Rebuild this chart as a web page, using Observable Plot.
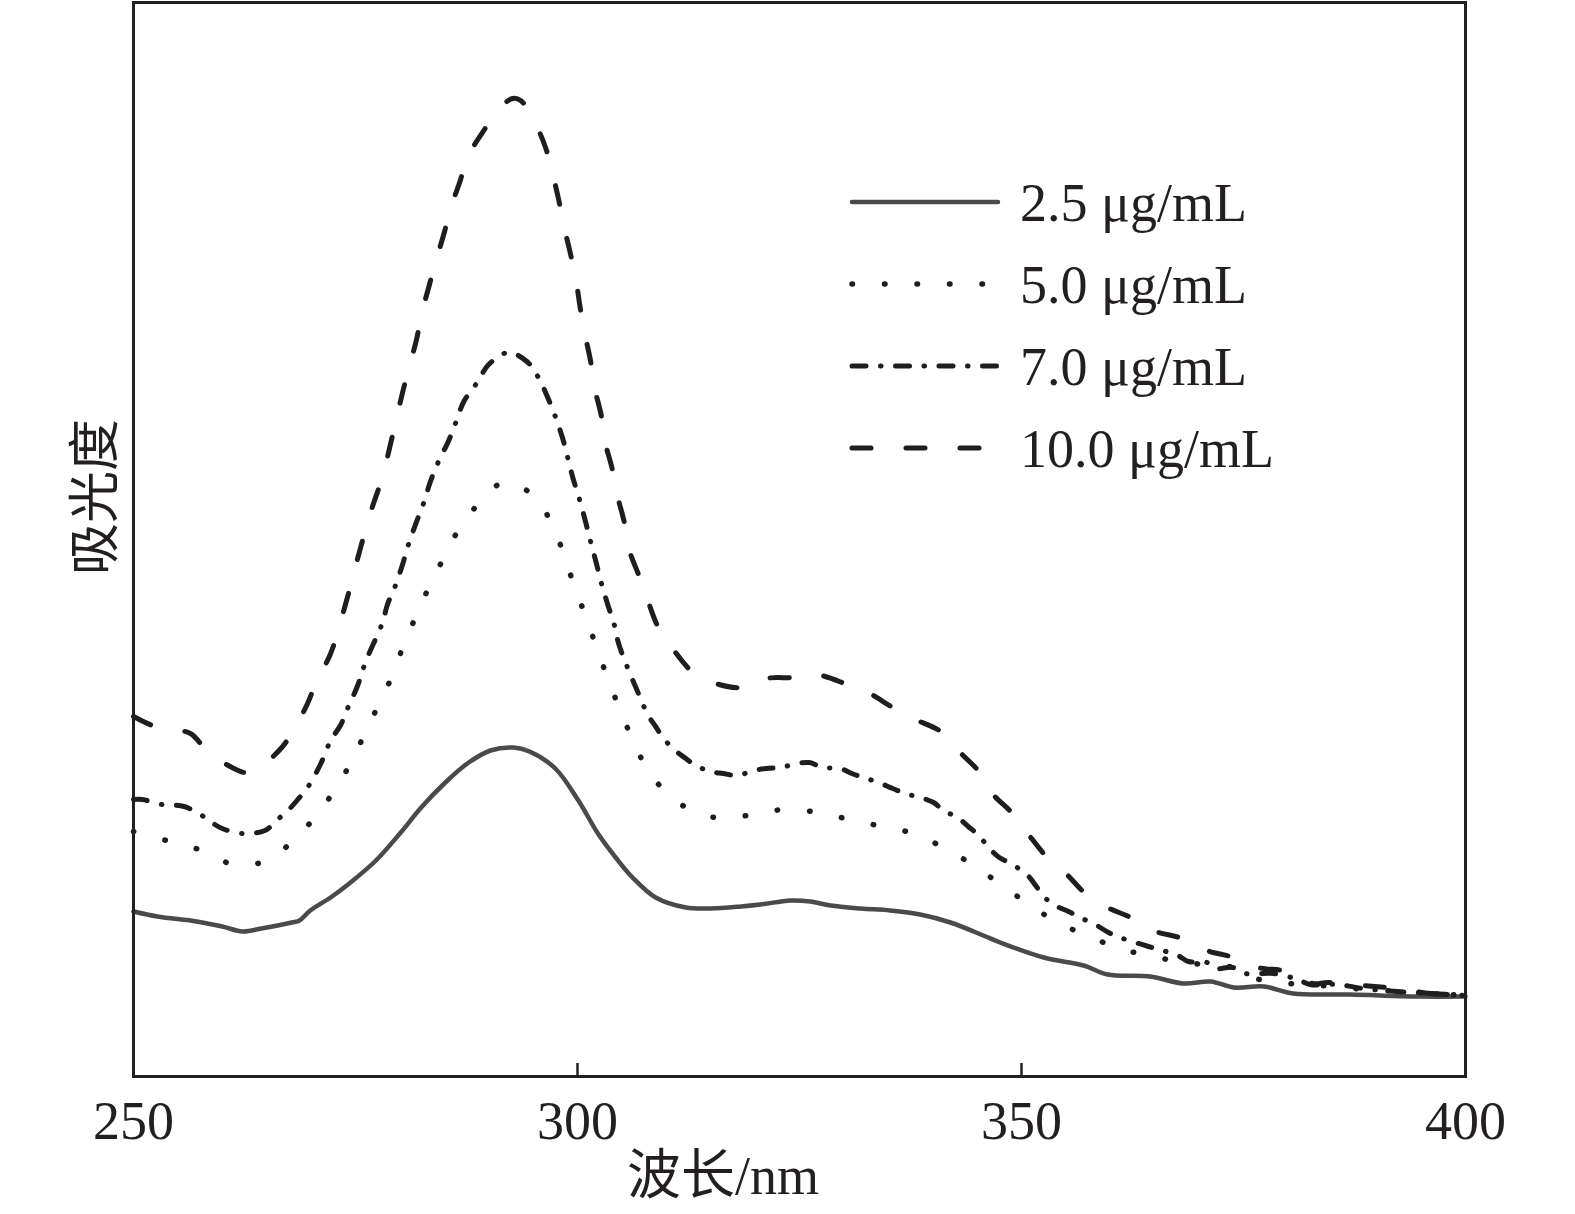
<!DOCTYPE html>
<html><head><meta charset="utf-8">
<script src="https://cdn.jsdelivr.net/npm/d3@7"></script>
<script src="https://cdn.jsdelivr.net/npm/@observablehq/plot@0.6"></script>
<style>html,body{margin:0;padding:0;background:#fff;overflow:hidden;} svg{display:block}</style>
</head><body><div id="chart"></div>
<script>
// Series names (legend)
const seriesNames = ["2.5 μg/mL", "5.0 μg/mL", "7.0 μg/mL", "10.0 μg/mL"];
const xTicks = [250, 300, 350, 400];

// 2.5 μg/mL
const wl25 = [250,252.7,257.1,260,262.3,264.4,267.8,268.7,269.9,272.2,274.3,277.3,280,282.4,285,287.6,290.2,292.8,294.6,297.5,300.1,302.3,304.3,306.2,308.8,312.2,315,318.4,320.6,324,326.2,328.5,331.9,335.2,338.6,342,345.7,347.6,352.5,357,359.7,364.5,368.2,371.3,373.9,377.3,380.6,387,394.6,400];
const a25 = [0.165,0.160,0.155,0.150,0.145,0.148,0.154,0.156,0.166,0.179,0.193,0.216,0.243,0.269,0.293,0.313,0.326,0.329,0.325,0.308,0.276,0.243,0.219,0.199,0.179,0.169,0.168,0.170,0.172,0.176,0.175,0.171,0.168,0.166,0.162,0.154,0.141,0.134,0.119,0.111,0.102,0.100,0.093,0.095,0.089,0.090,0.083,0.082,0.080,0.080];

// 5.0 μg/mL
const wl50 = [250,254.1,257.7,260.9,264.4,267.8,270.3,272.4,274.3,275.9,277.5,279.1,280.4,281.8,283.3,284.9,286.7,289.1,291.7,295.2,297,298.4,299.5,300.8,302,303.2,304.5,306,307.7,310.1,313.1,316.6,320.2,323.4,327.1,330.6,334.3,337.8,341.4,344.8,348.1,351.4,354.2,357.5,360.9,364.5,368.1,373.8,375.2,378.8,382.3,387.4,392.7,400];
const a50 = [0.245,0.235,0.226,0.213,0.214,0.234,0.258,0.283,0.311,0.340,0.370,0.400,0.431,0.460,0.490,0.518,0.548,0.575,0.594,0.580,0.554,0.524,0.494,0.463,0.433,0.403,0.373,0.341,0.310,0.283,0.265,0.258,0.263,0.267,0.264,0.257,0.250,0.243,0.228,0.210,0.189,0.169,0.153,0.141,0.128,0.121,0.114,0.109,0.101,0.094,0.092,0.088,0.085,0.081];

// 7.0 μg/mL
const wl70 = [250,251,253.2,255.7,257.7,258.8,260,262.3,264.8,266.1,267.5,268.5,269.6,271.1,272.2,273.3,274.1,275.2,276.2,278,278.6,279.5,280.3,281,281.8,282.7,283.4,284.3,285.4,286.3,287.2,288.7,290,292.2,294.3,295.6,296.6,297.5,298.3,298.9,299.5,300.2,300.9,301.5,302.1,302.7,303.4,304.1,304.7,307.1,307.9,308.8,309.7,311,312.2,313.3,315,316.4,318,319.8,321.3,322.9,324.3,326.1,327.6,329.6,330.9,332.2,333.9,335.5,336.9,338.6,340.1,341.2,342.8,344,345.2,346.3,347.5,349,350.7,351.6,352.5,353.8,355.3,356.6,358.3,359.8,361.1,362.8,364.3,365.9,367.6,368.8,370.9,371.8,373.8,375.2,378.4,381.1,382.5,385.6,388.5,392.3,396.1,400];
const a70 = [0.277,0.277,0.272,0.270,0.261,0.254,0.248,0.243,0.246,0.256,0.267,0.277,0.289,0.313,0.336,0.351,0.368,0.390,0.416,0.453,0.472,0.491,0.512,0.533,0.553,0.574,0.594,0.614,0.634,0.654,0.675,0.694,0.712,0.724,0.715,0.699,0.680,0.660,0.639,0.619,0.598,0.578,0.555,0.534,0.514,0.493,0.472,0.453,0.431,0.378,0.362,0.350,0.338,0.326,0.318,0.311,0.305,0.303,0.301,0.306,0.308,0.309,0.312,0.314,0.309,0.308,0.303,0.299,0.294,0.288,0.283,0.279,0.274,0.266,0.259,0.250,0.241,0.229,0.219,0.212,0.201,0.191,0.180,0.171,0.165,0.159,0.152,0.144,0.139,0.134,0.130,0.126,0.121,0.115,0.114,0.108,0.109,0.103,0.103,0.097,0.092,0.092,0.088,0.085,0.083,0.081];

// 10.0 μg/mL
const wl100 = [250,252.7,256.4,258.4,261.1,262.5,263.7,266.6,268,269.6,270.6,272.2,273.9,275.3,276.7,278,279.3,280.3,281,281.9,282.4,283.3,284,285,285.7,286.8,287.6,289.6,291.3,292.7,293.6,295.2,296.4,297.1,297.9,298.4,299.2,299.8,300.3,300.8,301.5,301.8,302.7,303,303.9,304.4,305.3,305.7,307,307.8,309.1,310.7,313,315.2,318.6,321.2,324.5,326.8,330.4,332.7,335.5,337.8,341.1,343.1,345.4,346.7,349,350.7,352.9,355,357.2,359.7,362.3,364.8,368.1,370.9,373.9,376.6,380,382.8,384.5,388.5,392.3,396.1,400];
const a100 = [0.360,0.349,0.343,0.324,0.309,0.304,0.306,0.328,0.346,0.373,0.395,0.423,0.473,0.520,0.564,0.599,0.646,0.684,0.708,0.738,0.761,0.791,0.814,0.844,0.868,0.896,0.919,0.948,0.969,0.978,0.976,0.954,0.929,0.906,0.876,0.853,0.823,0.798,0.769,0.744,0.714,0.693,0.660,0.638,0.608,0.584,0.553,0.530,0.499,0.479,0.449,0.428,0.404,0.394,0.389,0.398,0.399,0.402,0.392,0.384,0.369,0.358,0.344,0.324,0.303,0.283,0.263,0.243,0.219,0.203,0.183,0.169,0.159,0.146,0.138,0.126,0.119,0.109,0.105,0.093,0.094,0.091,0.088,0.083,0.083];

const wlSets = [wl25, wl50, wl70, wl100];
const aSets = [a25, a50, a70, a100];
const rows = seriesNames.flatMap((s, i) => wlSets[i].map((w, j) => ({s, wl: w, a: aSets[i][j]})));

const styles = {
  "2.5 μg/mL": {stroke: "#4a4a4a", strokeWidth: 4.5, dash: null},
  "5.0 μg/mL": {stroke: "#1e1e1e", strokeWidth: 5.5, dash: "0.5 32"},
  "7.0 μg/mL": {stroke: "#1e1e1e", strokeWidth: 5, dash: "14 14.5 0.5 14.5"},
  "10.0 μg/mL": {stroke: "#1e1e1e", strokeWidth: 5, dash: "19 35"}
};

const serif = "'Liberation Serif','Times New Roman','Noto Sans CJK SC',serif";

const chart = Plot.plot({
  width: 1575, height: 1214,
  marginLeft: 133, marginRight: 110, marginTop: 2, marginBottom: 138,
  style: {fontFamily: serif, fontSize: "54px", color: "#231f20", background: "#fff", maxWidth: "none"},
  x: {domain: [250, 400]},
  y: {domain: [0, 1.074], axis: null},
  marks: [
    Plot.axisX(xTicks, {tickSize: -13, tickPadding: 37, tickFormat: d => String(d), label: null, strokeWidth: 2.5, fontSize: 54}),
    ...seriesNames.map(s => Plot.line(rows.filter(d => d.s === s), {
      x: "wl", y: "a", stroke: styles[s].stroke, strokeWidth: styles[s].strokeWidth,
      strokeDasharray: styles[s].dash, strokeLinecap: "round", strokeLinejoin: "round", curve: "catmull-rom"
    })),
    Plot.frame({stroke: "#231f20", strokeWidth: 3})
  ]
});

const svg = d3.select(chart);
// axis titles
svg.append("text").attr("x", 723).attr("y", 1176).attr("text-anchor", "middle")
  .attr("dominant-baseline", "central").attr("font-family", serif).attr("font-size", 54)
  .attr("fill", "#231f20").text("波长/nm");
svg.append("text").attr("transform", "translate(90,497) rotate(-90)").attr("text-anchor", "middle")
  .attr("dominant-baseline", "central").attr("font-family", "'Noto Sans CJK SC',serif").attr("font-size", 52)
  .attr("fill", "#231f20").text("吸光度");

// legend
const lg = svg.append("g").attr("text-anchor", "start");
seriesNames.forEach((s, i) => {
  const y = 202 + i * 82;
  const st = styles[s];
  lg.append("line").attr("x1", 852).attr("x2", 998).attr("y1", y).attr("y2", y)
    .attr("stroke", st.stroke).attr("stroke-width", st.strokeWidth)
    .attr("stroke-linecap", "round").attr("stroke-dasharray", st.dash);
  lg.append("text").attr("x", 1020).attr("y", y + 19).attr("text-anchor", "start").attr("font-family", serif)
    .attr("font-size", 54).attr("fill", "#231f20").text(s);
});

document.getElementById("chart").appendChild(chart);
</script>
</body></html>
